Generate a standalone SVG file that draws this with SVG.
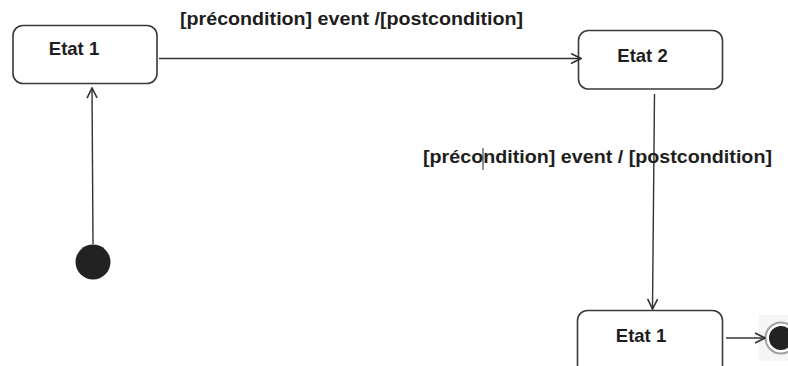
<svg xmlns="http://www.w3.org/2000/svg" width="788" height="366" viewBox="0 0 788 366">
  <style>
    .state rect { fill: #ffffff; stroke: #3a3a3a; stroke-width: 1.6; }
    .state text { font-family: "Liberation Sans", Arial, sans-serif; font-weight: bold; font-size: 18.5px; fill: #1e1e1e; text-anchor: middle; }
    .edge { stroke: #333333; stroke-width: 1.4; fill: none; }
    .label { font-family: "Liberation Sans", Arial, sans-serif; font-weight: bold; font-size: 17.5px; fill: #1e1e1e; }
  </style>
  <defs>
    <marker id="open" viewBox="0 0 12 12" refX="11" refY="6" markerWidth="12" markerHeight="12" markerUnits="userSpaceOnUse" orient="auto">
      <path d="M1,1 L11,6 L1,11" fill="none" stroke="#333333" stroke-width="1.6"/>
    </marker>
  </defs>
  <rect width="788" height="366" fill="#ffffff"/>

  <!-- initial pseudo-state -->
  <g id="initial">
    <circle cx="93" cy="262" r="17.5" fill="#222222"/>
  </g>

  <g id="state-etat1" class="state">
    <rect x="13" y="25.5" width="144" height="58" rx="10"/>
    <text x="74" y="55">Etat 1</text>
  </g>

  <g id="state-etat2" class="state">
    <rect x="578.5" y="30.5" width="144" height="58.5" rx="10"/>
    <text x="642.5" y="62">Etat 2</text>
  </g>

  <g id="state-etat1-b" class="state">
    <rect x="577.5" y="310.5" width="145" height="70" rx="10"/>
    <text x="641" y="342">Etat 1</text>
  </g>

  <!-- final state -->
  <g id="final">
    <rect x="759" y="315" width="29" height="46" fill="#f5f5f5"/>
    <circle cx="781" cy="338" r="15.5" fill="#ffffff" stroke="#a0a0a0" stroke-width="2"/>
    <circle cx="781" cy="338" r="12" fill="#222222"/>
  </g>

  <!-- transitions -->
  <g id="connectors">
    <line class="edge" x1="93" y1="244" x2="92" y2="88" marker-end="url(#open)"/>
    <line class="edge" x1="159" y1="58.5" x2="581" y2="58.5" marker-end="url(#open)"/>
    <line class="edge" x1="654.5" y1="94" x2="652.5" y2="309" stroke-width="1.8" marker-end="url(#open)"/>
    <line class="edge" x1="726" y1="338" x2="765" y2="338" marker-end="url(#open)"/>
    <text class="label" x="180" y="25" textLength="343" lengthAdjust="spacingAndGlyphs">[précondition] event /[postcondition]</text>
    <text class="label" x="423" y="163" textLength="349" lengthAdjust="spacingAndGlyphs">[précondition] event / [postcondition]</text>
    <line x1="483" y1="148" x2="483" y2="170" stroke="#222" stroke-width="1"/>
  </g>
</svg>
